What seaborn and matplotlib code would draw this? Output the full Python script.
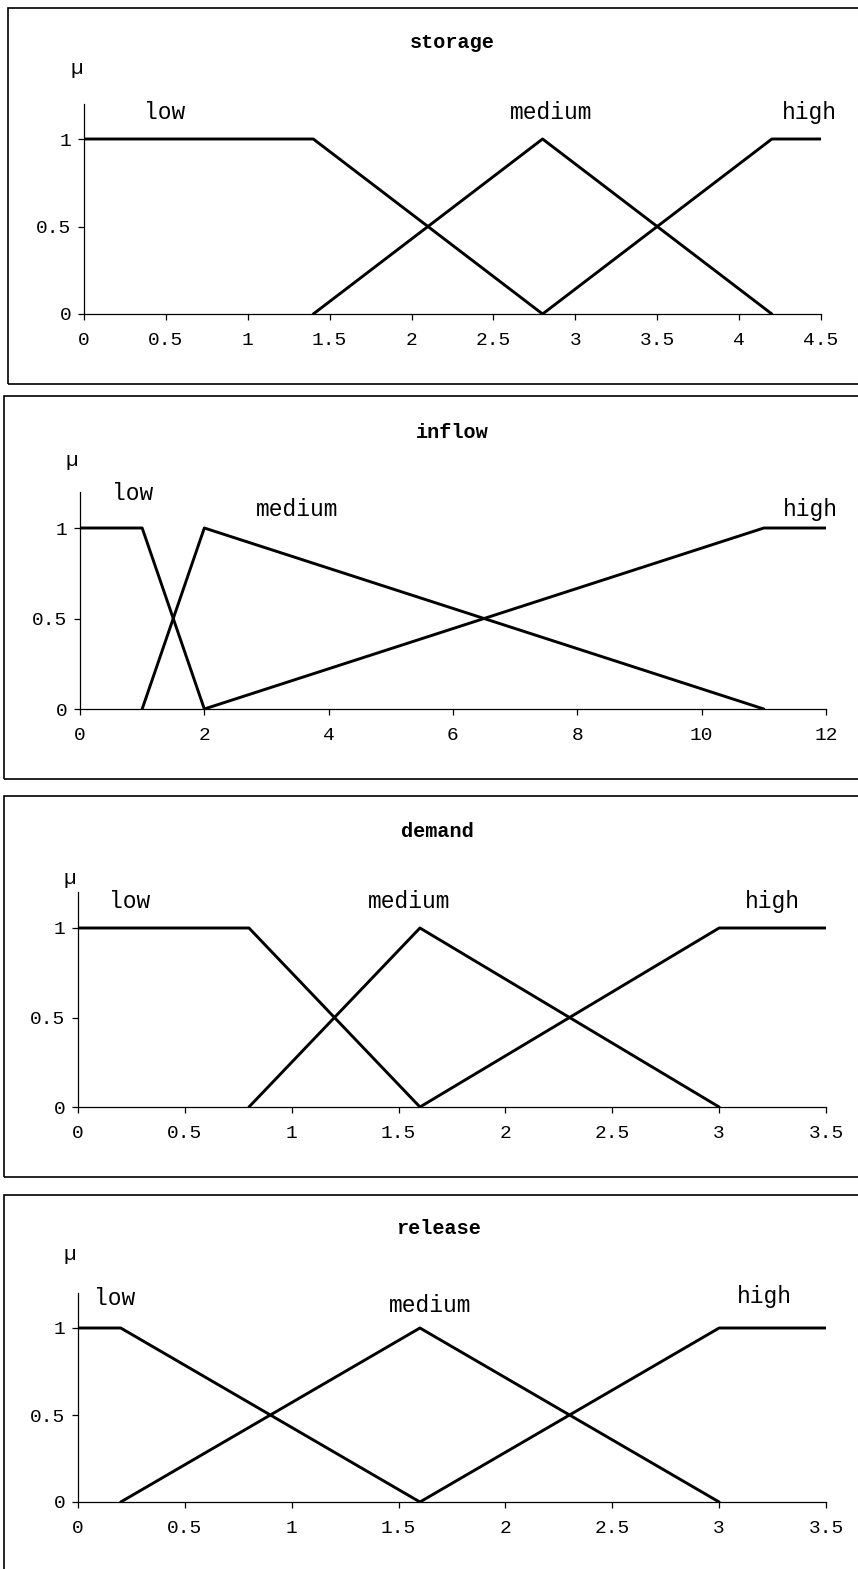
import matplotlib
matplotlib.use("Agg")
import matplotlib.pyplot as plt
from matplotlib.patches import Rectangle
import pandas as pd
import seaborn as sns

sns.set_theme(style="white")
plt.rcParams["font.family"] = ["Liberation Mono", "DejaVu Sans Mono"]
plt.rcParams["text.color"] = "black"
plt.rcParams["xtick.color"] = "black"
plt.rcParams["ytick.color"] = "black"

# Membership functions: breakpoints (x, mu) for each fuzzy set
storage_low_x, storage_low_y = [0, 1.4, 2.8], [1, 1, 0]
storage_med_x, storage_med_y = [1.4, 2.8, 4.2], [0, 1, 0]
storage_high_x, storage_high_y = [2.8, 4.2, 4.5], [0, 1, 1]
storage_ticks = [0, 0.5, 1, 1.5, 2, 2.5, 3, 3.5, 4, 4.5]
storage_tick_labels = ["0", "0.5", "1", "1.5", "2", "2.5", "3", "3.5", "4", "4.5"]

inflow_low_x, inflow_low_y = [0, 1, 2], [1, 1, 0]
inflow_med_x, inflow_med_y = [1, 2, 11], [0, 1, 0]
inflow_high_x, inflow_high_y = [2, 11, 12], [0, 1, 1]
inflow_ticks = [0, 2, 4, 6, 8, 10, 12]
inflow_tick_labels = ["0", "2", "4", "6", "8", "10", "12"]

demand_low_x, demand_low_y = [0, 0.8, 1.6], [1, 1, 0]
demand_med_x, demand_med_y = [0.8, 1.6, 3], [0, 1, 0]
demand_high_x, demand_high_y = [1.6, 3, 3.5], [0, 1, 1]

release_low_x, release_low_y = [0, 0.2, 1.6], [1, 1, 0]
release_med_x, release_med_y = [0.2, 1.6, 3], [0, 1, 0]
release_high_x, release_high_y = [1.6, 3, 3.5], [0, 1, 1]

half_ticks = [0, 0.5, 1, 1.5, 2, 2.5, 3, 3.5]
half_tick_labels = ["0", "0.5", "1", "1.5", "2", "2.5", "3", "3.5"]

mu_ticks = [0, 0.5, 1]
mu_tick_labels = ["0", "0.5", "1"]
set_names = ["low", "medium", "high"]

W, H = 858, 1569
fig = plt.figure(figsize=(W / 100, H / 100), dpi=100)


def frac_rect(left, right, top_px, bottom_px):
    return [left / W, 1 - bottom_px / H, (right - left) / W, (bottom_px - top_px) / H]


panels = [
    dict(title="storage", xs=[storage_low_x, storage_med_x, storage_high_x],
         ys=[storage_low_y, storage_med_y, storage_high_y],
         xmax=4.5, ticks=storage_ticks, tick_labels=storage_tick_labels,
         box=(84, 821, 314, 175), frame=(8, 8, 384),
         title_px=(452, 43), mu_px=(77, 68),
         labels=[(0.49, 1.15), (2.85, 1.15), (4.43, 1.15)]),
    dict(title="inflow", xs=[inflow_low_x, inflow_med_x, inflow_high_x],
         ys=[inflow_low_y, inflow_med_y, inflow_high_y],
         xmax=12, ticks=inflow_ticks, tick_labels=inflow_tick_labels,
         box=(80, 826, 709, 181), frame=(4, 396, 779),
         title_px=(452, 432), mu_px=(72, 460),
         labels=[(0.85, 1.19), (3.5, 1.10), (11.75, 1.10)]),
    dict(title="demand", xs=[demand_low_x, demand_med_x, demand_high_x],
         ys=[demand_low_y, demand_med_y, demand_high_y],
         xmax=3.5, ticks=half_ticks, tick_labels=half_tick_labels,
         box=(78, 826, 1107, 179), frame=(4, 796, 1177),
         title_px=(437, 832), mu_px=(70, 879),
         labels=[(0.24, 1.15), (1.55, 1.15), (3.25, 1.15)]),
    dict(title="release", xs=[release_low_x, release_med_x, release_high_x],
         ys=[release_low_y, release_med_y, release_high_y],
         xmax=3.5, ticks=half_ticks, tick_labels=half_tick_labels,
         box=(78, 826, 1502, 174), frame=(4, 1195, 1580),
         title_px=(438, 1229), mu_px=(70, 1254),
         labels=[(0.17, 1.17), (1.65, 1.13), (3.21, 1.18)]),
]

for p in panels:
    # outer frame, open past the right edge of the page
    fl, ft, fb = p["frame"]
    fig.patches.append(Rectangle((fl / W, 1 - fb / H), 1.2, (fb - ft) / H,
                                 transform=fig.transFigure, fill=False,
                                 edgecolor="black", linewidth=1.2, zorder=0))

    x0, x1, y0, unit = p["box"]
    top = y0 - 1.2 * unit
    ax = fig.add_axes(frac_rect(x0, x1, top, y0))

    rows = []
    for name, xv, yv in zip(set_names, p["xs"], p["ys"]):
        for a, b in zip(xv, yv):
            rows.append({"set": name, "x": a, "mu": b})
    df = pd.DataFrame(rows)
    for name in set_names:
        sub = df[df["set"] == name]
        sns.lineplot(data=sub, x="x", y="mu", ax=ax, color="black",
                     linewidth=2.1, sort=False, estimator=None, legend=False)

    for name, (lx, ly) in zip(set_names, p["labels"]):
        ax.text(lx, ly, name, ha="center", va="center", fontsize=16.5,
                color="black")

    ax.set_xlim(0, p["xmax"])
    ax.set_ylim(0, 1.2)
    ax.set_xticks(p["ticks"])
    ax.set_xticklabels(p["tick_labels"], fontsize=14)
    ax.set_yticks(mu_ticks)
    ax.set_yticklabels(mu_tick_labels, fontsize=14)
    ax.set_xlabel("")
    ax.set_ylabel("")
    ax.patch.set_alpha(0)
    for side in ["top", "right"]:
        ax.spines[side].set_visible(False)
    for side in ["left", "bottom"]:
        ax.spines[side].set_color("black")
        ax.spines[side].set_linewidth(0.9)
    ax.tick_params(axis="both", direction="out", length=4, width=0.9,
                   color="black", labelcolor="black", bottom=True, left=True)
    ax.tick_params(axis="x", pad=9)
    ax.tick_params(axis="y", pad=5)

    tx, ty = p["title_px"]
    fig.text(tx / W, 1 - ty / H, p["title"], ha="center", va="center",
             fontsize=14.5, fontweight="bold", color="black")
    mx, my = p["mu_px"]
    fig.text(mx / W, 1 - my / H, "\u00b5", ha="center", va="center",
             fontsize=15, color="black")

fig.savefig("out.png", dpi=100, facecolor="white")
